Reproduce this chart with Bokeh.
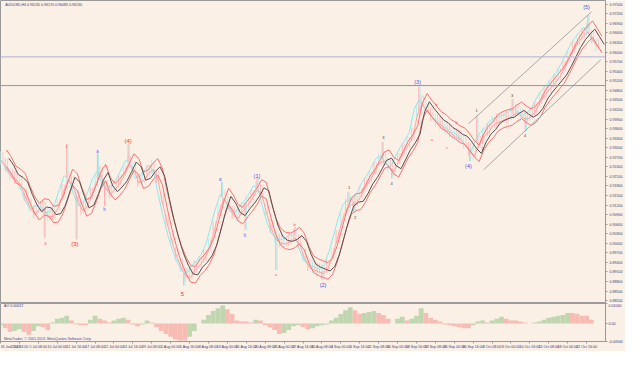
from bokeh.plotting import figure
from bokeh.layouts import column
from bokeh.models import Range1d, FixedTicker, Span, Label, ColumnDataSource, PrintfTickFormatter
from bokeh.transform import dodge
from bokeh.core.properties import value
from bokeh.embed import file_html
from bokeh.resources import INLINE

# ---------------- data ----------------
symbol_title = "AUDUSD,H4  0.96135 0.96170 0.96085 0.96130"

# close price sampled every 4 H4 bars
close = [
    0.9267, 0.9246, 0.9216, 0.9207, 0.9192, 0.9153, 0.9120, 0.9099, 0.9114, 0.9111,
    0.9090, 0.9093, 0.9120, 0.9165, 0.9207, 0.9192, 0.9147, 0.9111, 0.9120, 0.9156,
    0.9198, 0.9222, 0.9180, 0.9162, 0.9177, 0.9195, 0.9225, 0.9255, 0.9240, 0.9198,
    0.9204, 0.9225, 0.9240, 0.9210, 0.9138, 0.9072, 0.9015, 0.8967, 0.8931, 0.8904,
    0.8901, 0.8925, 0.8940, 0.8961, 0.8994, 0.9048, 0.9105, 0.9147, 0.9126, 0.9096,
    0.9087, 0.9108, 0.9126, 0.9147, 0.9174, 0.9165, 0.9105, 0.9054, 0.9021, 0.9009,
    0.9006, 0.9012, 0.9024, 0.9006, 0.8964, 0.8934, 0.8925, 0.8919, 0.8913, 0.8928,
    0.8967, 0.9021, 0.9075, 0.9117, 0.9129, 0.9132, 0.9156, 0.9186, 0.9207, 0.9234,
    0.9261, 0.9267, 0.9243, 0.9234, 0.9264, 0.9294, 0.9315, 0.9342, 0.9414, 0.9444,
    0.9423, 0.9405, 0.9387, 0.9378, 0.9363, 0.9354, 0.9342, 0.9336, 0.9318, 0.9297,
    0.9282, 0.9318, 0.9342, 0.9357, 0.9378, 0.9387, 0.9393, 0.9396, 0.9408, 0.9417,
    0.9405, 0.9396, 0.9405, 0.9423, 0.9453, 0.9474, 0.9492, 0.9510, 0.9528, 0.9555,
    0.9585, 0.9615, 0.9639, 0.9657, 0.9672, 0.9648, 0.9624,
]

# Awesome Oscillator, same sampling
ao = [
    -0.0010, -0.0025, -0.0045, -0.0040, -0.0030, -0.0045, -0.0060, -0.0040, -0.0015, -0.0020,
    -0.0035, 0.0005, 0.0025, 0.0030, 0.0040, 0.0015, -0.0005, -0.0010, -0.0010, 0.0020,
    0.0040, 0.0025, 0.0015, 0.0005, 0.0015, 0.0025, 0.0030, 0.0020, -0.0005, -0.0015,
    -0.0005, 0.0015, 0.0005, -0.0020, -0.0040, -0.0055, -0.0070, -0.0085, -0.0090, -0.0090,
    -0.0070, -0.0040, 0.0000, 0.0020, 0.0045, 0.0065, 0.0080, 0.0095, 0.0075, 0.0050,
    0.0015, 0.0010, 0.0010, 0.0005, 0.0020, 0.0015, -0.0010, -0.0020, -0.0035, -0.0055,
    -0.0050, -0.0035, -0.0015, -0.0010, -0.0020, -0.0030, -0.0025, -0.0015, -0.0010, -0.0005,
    0.0015, 0.0030, 0.0050, 0.0070, 0.0085, 0.0070, 0.0050, 0.0055, 0.0060, 0.0065,
    0.0055, 0.0045, 0.0025, 0.0000, 0.0025, 0.0035, 0.0015, 0.0025, 0.0040, 0.0080,
    0.0055, 0.0030, 0.0020, 0.0010, -0.0005, -0.0010, -0.0015, -0.0020, -0.0025, -0.0025,
    -0.0010, 0.0010, 0.0015, 0.0005, 0.0015, 0.0025, 0.0035, 0.0025, 0.0015, 0.0015,
    0.0010, 0.0005, 0.0000, 0.0005, 0.0010, 0.0020, 0.0030, 0.0035, 0.0040, 0.0045,
    0.0055, 0.0055, 0.0050, 0.0040, 0.0040, 0.0020, 0.0000,
]

# spike extremes (bar index, extreme price)
spike_t = [56, 37, 64, 82, 88, 108, 155, 187, 207, 217, 233, 249, 272, 294, 299, 323, 331, 354, 397, 403, 408, 433, 444, 497]
spike_p = [0.9312, 0.9018, 0.9012, 0.9282, 0.9117, 0.9312, 0.8868, 0.9192, 0.9042, 0.9204, 0.8916, 0.9051,
           0.8886, 0.9162, 0.9096, 0.9318, 0.9204, 0.9492, 0.9258, 0.9402, 0.9312, 0.9453, 0.9351, 0.9717]

# Elliott wave labels
wave_t = [56, 38, 63, 82, 88, 108, 154, 186, 207, 217, 233, 249, 273, 295, 300, 324, 331, 353,
          365, 369, 378, 386, 396, 403, 408, 433, 444, 496]
wave_p = [0.9303, 0.9000, 0.8997, 0.9288, 0.9105, 0.9321, 0.8841, 0.9201, 0.9024, 0.9210, 0.8901, 0.9060,
          0.8868, 0.9174, 0.9081, 0.9333, 0.9189, 0.9507, 0.9327, 0.9435, 0.9300, 0.9378, 0.9243, 0.9417,
          0.9297, 0.9465, 0.9339, 0.9741]
wave_text = ["1", "3", "(3)", "a", "b", "(4)", "5", "a", "b", "(1)", "a", "b", "(2)", "1", "2", "3", "4", "(3)",
             "a", "b", "c", "b", "(4)", "1", "2", "3", "4", "(5)"]
wave_degree = ["minor_r", "minor_r", "major_r", "minor_b", "minor_b", "major_r", "major_r", "minor_b", "minor_b",
               "major_b", "minor_r", "minor_r", "major_b", "minor_k", "minor_k", "minor_k", "minor_k", "major_b",
               "minor_r", "minor_r", "minor_r", "minor_r", "major_b", "minor_k", "minor_k", "minor_k", "minor_k",
               "major_b"]

# channel trend lines
chan_up_t = [396, 500]
chan_up_p = [0.9375, 0.9726]
chan_dn_t = [409, 508]
chan_dn_p = [0.9231, 0.9576]

# horizontal levels
level_1 = 0.9585
level_2 = 0.9495

price_ticks = [0.97500, 0.97200, 0.96900, 0.96600, 0.96300, 0.96000, 0.95700, 0.95400, 0.95100, 0.94800,
               0.94500, 0.94200, 0.93900, 0.93600, 0.93300, 0.93000, 0.92700, 0.92400, 0.92100, 0.91800,
               0.91500, 0.91200, 0.90900, 0.90600, 0.90300, 0.90000, 0.89700, 0.89400, 0.89100, 0.88800,
               0.88500, 0.88200]

time_labels = ["26 Jun 2013", "2 Jul 16:00", "5 Jul 08:00", "10 Jul 00:00", "12 Jul 16:00", "17 Jul 08:00",
               "22 Jul 00:00", "24 Jul 16:00", "29 Jul 08:00", "1 Aug 00:00", "5 Aug 16:00", "8 Aug 08:00",
               "13 Aug 00:00", "15 Aug 16:00", "20 Aug 08:00", "23 Aug 00:00", "27 Aug 16:00", "30 Aug 08:00",
               "4 Sep 00:00", "6 Sep 16:00", "11 Sep 08:00", "16 Sep 00:00", "18 Sep 16:00", "23 Sep 08:00",
               "26 Sep 00:00", "30 Sep 16:00", "3 Oct 08:00", "8 Oct 00:00", "10 Oct 16:00", "15 Oct 08:00",
               "18 Oct 00:00", "22 Oct 16:00"]

ao_ticks = [0.0104, 0.0, -0.0094]
ao_tick_labels = ["0.01040", "0.00", "-0.00940"]
ao_title = "AO 0.00012"
copyright_text = "MetaTrader, \u00a9 2001-2013, MetaQuotes Software Corp."

# ---------------- styling ----------------
BG = "#FAF0E6"
FRAME = "#9a9a9a"
AXTXT = "#3c3c7c"
FONT = "Liberation Sans"
TINY = "3.6px"
BARS_PER_STEP = 4
BARS_PER_LABEL = 16
FW = 605

t = [i * BARS_PER_STEP for i in range(len(close))]
src = ColumnDataSource(dict(t=t, close=close,
                            haze=["#ffbcbc" if i % 2 else "#b4eeee" for i in range(len(close))]))

p = figure(frame_width=FW, frame_height=303, x_range=Range1d(0, 512), y_range=Range1d(0.8811, 0.9762),
           output_backend="svg", toolbar_location=None, x_axis_location=None, y_axis_location="right",
           min_border=0, background_fill_color=BG, border_fill_color=BG, outline_line_color=FRAME)
p.grid.visible = False
p.yaxis.ticker = FixedTicker(ticks=price_ticks)
p.yaxis.formatter = PrintfTickFormatter(format="%.5f")
for ax in [p.yaxis[0]]:
    ax.major_label_text_font_size = TINY
    ax.major_label_text_font = FONT
    ax.major_label_text_color = AXTXT
    ax.axis_line_color = FRAME
    ax.major_tick_line_color = FRAME
    ax.major_tick_out = 2
    ax.major_tick_in = 0
    ax.minor_tick_line_color = None
    ax.major_label_standoff = 2

# horizontal levels
p.add_layout(Span(location=level_1, dimension="width", line_color="#b0b0d8", line_width=1))
p.add_layout(Span(location=level_2, dimension="width", line_color="#8c8ce0", line_width=1))

# haze of bars
p.segment(x0="t", y0=dodge("close", -0.0021), x1="t", y1=dodge("close", 0.0021), source=src,
          line_color="haze", line_width=1)
p.segment(x0=dodge("t", 2), y0=dodge("close", -0.0016), x1=dodge("t", 2), y1=dodge("close", 0.0019), source=src,
          line_color="#ffc8c8", line_width=1)

# spikes
spike_base = [close[min(int(round(s / BARS_PER_STEP)), len(close) - 1)] for s in spike_t]
p.segment(x0=spike_t, y0=spike_base, x1=spike_t, y1=spike_p, line_color="#ffb0b0", line_width=1)
p.segment(x0=[s + 1 for s in spike_t], y0=spike_base, x1=[s + 1 for s in spike_t], y1=spike_p,
          line_color="#a8eeee", line_width=1)

# indicator lines
p.line(x=dodge("t", -2), y=dodge("close", 0.0006), source=src, line_color="#8fe8ee", line_width=1)
p.line(x=dodge("t", 1), y=dodge("close", -0.0008), source=src, line_color="#ffa4a4", line_width=1)
p.line(x=dodge("t", 5), y=dodge("close", 0.0026), source=src, line_color="#ff7070", line_width=1)
p.line(x=dodge("t", 5), y=dodge("close", -0.0026), source=src, line_color="#ff7070", line_width=1)
p.line(x=dodge("t", 7), y="close", source=src, line_color="#505050", line_width=1)

# channel
p.line(x=chan_up_t, y=chan_up_p, line_color="#a8a8a8", line_width=1)
p.line(x=chan_dn_t, y=chan_dn_p, line_color="#a8a8a8", line_width=1)

# wave labels
deg_color = {"minor_r": "#ff4848", "major_r": "#ff3030", "minor_b": "#6464e6", "major_b": "#5050dc",
             "minor_k": "#404040"}
deg_size = {"minor_r": "4px", "major_r": "6px", "minor_b": "4.5px", "major_b": "5.5px", "minor_k": "4px"}
wsrc = ColumnDataSource(dict(x=wave_t, y=wave_p, text=wave_text,
                             color=[deg_color[d] for d in wave_degree],
                             size=[deg_size[d] for d in wave_degree]))
p.text(x="x", y="y", text="text", source=wsrc, text_color="color", text_font_size="size",
       text_font=value(FONT), text_align="center", text_baseline="middle")

# title
p.add_layout(Label(x=4, y=0.9755, text=symbol_title, text_font=FONT, text_font_size=TINY,
                   text_color=AXTXT, text_baseline="top"))

# highlighted level values on the price scale
for lv in [level_1, level_2]:
    p.add_layout(Label(x=512, y=lv, x_offset=2, text="%.5f" % lv, text_font=FONT, text_font_size=TINY,
                       text_color="white", text_baseline="middle", background_fill_color="#3c3cc8"))

# ---------------- oscillator ----------------
ao_col = ["#c0d6b0"] + ["#c0d6b0" if ao[i] > ao[i - 1] else "#f7bcb4" for i in range(1, len(ao))]
asrc = ColumnDataSource(dict(t=t, ao=ao, col=ao_col))
q = figure(frame_width=FW, frame_height=38, x_range=p.x_range, y_range=Range1d(-0.0095, 0.0105),
           output_backend="svg", toolbar_location=None, y_axis_location="right",
           min_border=0, background_fill_color=BG, border_fill_color=BG, outline_line_color=FRAME)
q.grid.visible = False
q.vbar(x="t", top="ao", bottom=0, width=BARS_PER_STEP, source=asrc, fill_color="col", line_color=None)

q.yaxis.ticker = FixedTicker(ticks=ao_ticks)
q.yaxis.major_label_overrides = dict(zip(ao_ticks, ao_tick_labels))
time_ticks = [k * BARS_PER_LABEL for k in range(len(time_labels))]
q.xaxis.ticker = FixedTicker(ticks=time_ticks)
q.xaxis.major_label_overrides = dict(zip(time_ticks, time_labels))
q.xaxis.major_label_text_align = "left"
for ax in [q.yaxis[0], q.xaxis[0]]:
    ax.major_label_text_font_size = TINY
    ax.major_label_text_font = FONT
    ax.major_label_text_color = AXTXT
    ax.axis_line_color = FRAME
    ax.major_tick_line_color = FRAME
    ax.major_tick_out = 2
    ax.major_tick_in = 0
    ax.minor_tick_line_color = None
    ax.major_label_standoff = 1

q.add_layout(Label(x=3, y=0.0100, text=ao_title, text_font=FONT, text_font_size=TINY,
                   text_color=AXTXT, text_baseline="top"))
q.add_layout(Label(x=3, y=-0.0090, text=copyright_text, text_font=FONT, text_font_size=TINY,
                   text_color="#4a4a9a", text_baseline="bottom"))

layout = column(p, q, spacing=0)
open("out.html", "w").write(file_html(layout, INLINE))
